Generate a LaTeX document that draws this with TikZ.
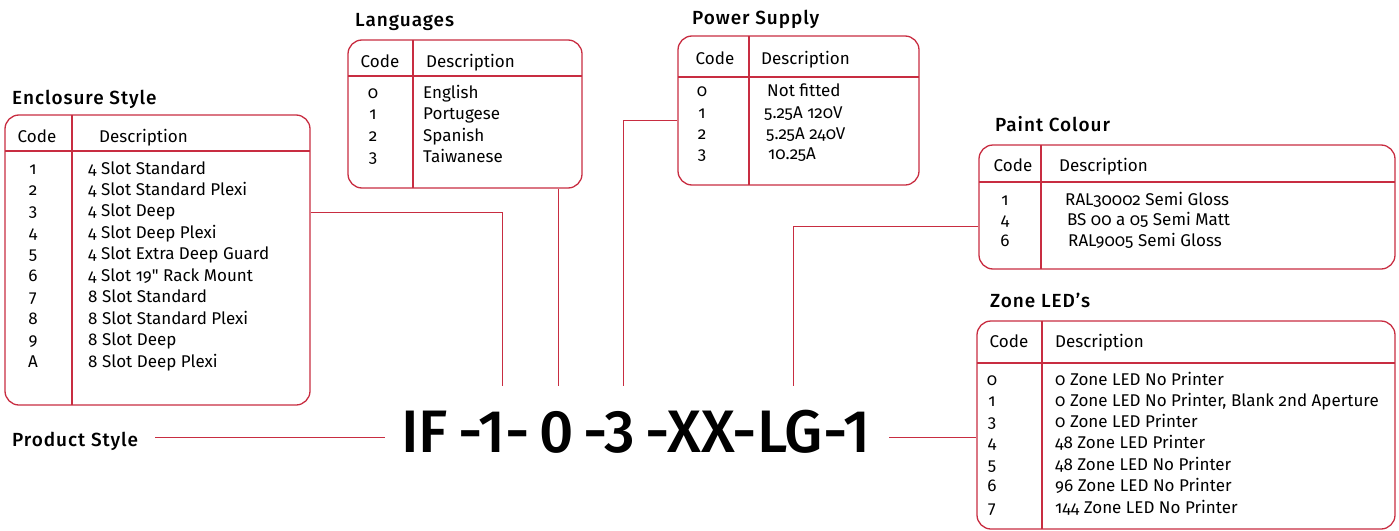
\documentclass[tikz,border=0pt]{standalone}
\usepackage{fontspec}
\setmainfont{Fira Sans}[Numbers=OldStyle]
\newfontfamily\plainfont{Fira Sans}[Numbers=OldStyle]
\newfontfamily\headfont{Fira Sans Medium}[LetterSpace=5]
\newfontfamily\partfont{Fira Sans Medium}[Numbers=Lining]
\usetikzlibrary{fit}
\definecolor{linered}{RGB}{200,45,65}

\begin{document}
\begin{tikzpicture}[x=1pt,y=-1pt]
\tikzstyle{tablebox}=[draw=linered, line width=1.3pt, rounded corners=14pt, inner sep=0pt]
\tikzstyle{rule}=[draw=linered, line width=1.3pt]
\tikzstyle{link}=[draw=linered, line width=1pt]
\tikzstyle{heading}=[anchor=base west, inner sep=0pt, font=\headfont\fontsize{19}{21}\selectfont]
\tikzstyle{codecell}=[anchor=base, inner sep=0pt, font=\fontsize{17}{20}\selectfont]
\tikzstyle{desccell}=[anchor=base west, inner sep=0pt, font=\fontsize{17}{20}\selectfont]

\useasboundingbox (0,0) rectangle (1399,530);

% Enclosure style table
\node[heading] (enclT) at (12,104) {Enclosure Style};
\node[tablebox, fit={(5,115) (310,405)}] (encl) {};
\draw[rule] (72,115) -- (72,405);
\draw[rule] (5,151) -- (310,151);
\node[codecell] (enclC) at (37,142) {Code};
\node[desccell] (enclD) at (99,142) {Description};
\node[codecell] (e1c) at (33,174) {1};
\node[desccell] (e1d) at (88,174) {4 Slot Standard};
\node[codecell] (e2c) at (33,195.4) {2};
\node[desccell] (e2d) at (88,195.4) {4 Slot Standard Plexi};
\node[codecell] (e3c) at (33,216.9) {3};
\node[desccell] (e3d) at (88,216.9) {4 Slot Deep};
\node[codecell] (e4c) at (33,238.3) {4};
\node[desccell] (e4d) at (88,238.3) {4 Slot Deep Plexi};
\node[codecell] (e5c) at (33,259.8) {5};
\node[desccell] (e5d) at (88,259.8) {4 Slot Extra Deep Guard};
\node[codecell] (e6c) at (33,281.2) {6};
\node[desccell] (e6d) at (88,281.2) {4 Slot 19{\plainfont"} Rack Mount};
\node[codecell] (e7c) at (33,302.6) {7};
\node[desccell] (e7d) at (88,302.6) {8 Slot Standard};
\node[codecell] (e8c) at (33,324.1) {8};
\node[desccell] (e8d) at (88,324.1) {8 Slot Standard Plexi};
\node[codecell] (e9c) at (33,345.5) {9};
\node[desccell] (e9d) at (88,345.5) {8 Slot Deep};
\node[codecell] (eAc) at (33,367) {A};
\node[desccell] (eAd) at (88,367) {8 Slot Deep Plexi};

% Languages table
\node[heading] (langT) at (355,26.7) {Languages};
\node[tablebox, fit={(348,40) (582,188)}] (lang) {};
\draw[rule] (413,40) -- (413,188);
\draw[rule] (348,76) -- (582,76);
\node[codecell] (langC) at (380,67) {Code};
\node[desccell] (langD) at (426,67) {Description};
\node[codecell] (l0c) at (373,98) {0};
\node[desccell] (l0d) at (423,98) {English};
\node[codecell] (l1c) at (373,119.5) {1};
\node[desccell] (l1d) at (423,119.5) {Portugese};
\node[codecell] (l2c) at (373,141) {2};
\node[desccell] (l2d) at (423,141) {Spanish};
\node[codecell] (l3c) at (373,162) {3};
\node[desccell] (l3d) at (423,162) {Taiwanese};

% Power supply table
\node[heading] (powT) at (692,24) {Power Supply};
\node[tablebox, fit={(678,36) (919,185)}] (pow) {};
\draw[rule] (749,36) -- (749,185);
\draw[rule] (678,77) -- (919,77);
\node[codecell] (powC) at (715,64) {Code};
\node[desccell] (powD) at (761,64) {Description};
\node[codecell] (p0c) at (702,96) {0};
\node[desccell] (p0d) at (767,96) {Not fitted};
\node[codecell] (p1c) at (702,118) {1};
\node[desccell] (p1d) at (764,118) {5.25A 120V};
\node[codecell] (p2c) at (702,139) {2};
\node[desccell] (p2d) at (766,139) {5.25A 240V};
\node[codecell] (p3c) at (702,159) {3};
\node[desccell] (p3d) at (768,159) {10.25A};

% Paint colour table
\node[heading] (paintT) at (995,131.7) {Paint Colour};
\node[tablebox, fit={(979,145) (1395,269)}] (paint) {};
\draw[rule] (1041,145) -- (1041,269);
\draw[rule] (979,182) -- (1395,182);
\node[codecell] (paintC) at (1013,171.7) {Code};
\node[desccell] (paintD) at (1059,171.7) {Description};
\node[codecell] (c1c) at (1005,205) {1};
\node[desccell] (c1d) at (1065,205) {RAL30002 Semi Gloss};
\node[codecell] (c4c) at (1005,225.7) {4};
\node[desccell] (c4d) at (1067,225.7) {BS 00 a 05 Semi Matt};
\node[codecell] (c6c) at (1005,246.7) {6};
\node[desccell] (c6d) at (1068,246.7) {RAL9005 Semi Gloss};

% Zone LED table
\node[heading] (zoneT) at (990,307.3) {Zone LED’s};
\node[tablebox, fit={(977,321) (1395,529)}] (zone) {};
\draw[rule] (1042,321) -- (1042,529);
\draw[rule] (977,363) -- (1395,363);
\node[codecell] (zoneC) at (1009,347.7) {Code};
\node[desccell] (zoneD) at (1055,347.7) {Description};
\node[codecell] (z0c) at (992,385) {0};
\node[desccell] (z0d) at (1055,385) {0 Zone LED No Printer};
\node[codecell] (z1c) at (992,406) {1};
\node[desccell] (z1d) at (1055,406) {0 Zone LED No Printer, Blank 2nd Aperture};
\node[codecell] (z3c) at (992,427.3) {3};
\node[desccell] (z3d) at (1055,427.3) {0 Zone LED Printer};
\node[codecell] (z4c) at (992,448.3) {4};
\node[desccell] (z4d) at (1055,448.3) {48 Zone LED Printer};
\node[codecell] (z5c) at (992,470) {5};
\node[desccell] (z5d) at (1055,470) {48 Zone LED No Printer};
\node[codecell] (z6c) at (992,491.7) {6};
\node[desccell] (z6d) at (1055,491.7) {96 Zone LED No Printer};
\node[codecell] (z7c) at (992,513.3) {7};
\node[desccell] (z7d) at (1055,513.3) {144 Zone LED No Printer};

% Product code
\node[heading] (prodT) at (12,446) {Product Style};
\node[anchor=base west, inner sep=0pt, font=\partfont\fontsize{60}{60}\selectfont] (prod) at (401,452) {IF\,-1-\,0\,-3\,-XX-LG-1};

% Connector ends on the code
\coordinate (enclIn) at (502,386);
\coordinate (langIn) at (558,386);
\coordinate (powIn) at (623,386);
\coordinate (paintIn) at (793,386);
\coordinate (codeIn) at (385,437);
\coordinate (codeOut) at (889,437);

% Connect tables to the code
\draw[link] (encl.east |- 0,212) -| (enclIn);
\draw[link] (lang.south -| langIn) -- (langIn);
\draw[link] (pow.west |- 0,120) -| (powIn);
\draw[link] (paint.west |- 0,226) -| (paintIn);
\draw[link] (codeOut) -- (zone.west |- codeOut);
\draw[link] (prodT.east |- codeIn) ++(17,0) -- (codeIn);
\end{tikzpicture}
\end{document}
